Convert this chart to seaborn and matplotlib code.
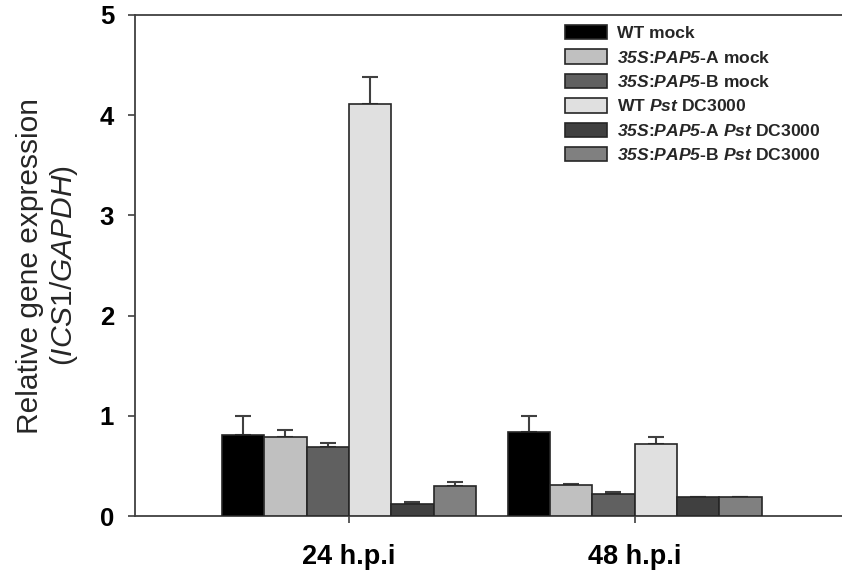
import matplotlib
matplotlib.use("Agg")
import matplotlib.pyplot as plt
import seaborn as sns
import pandas as pd
import numpy as np

# ---- data ----
timepoints = ["24 h.p.i", "48 h.p.i"]
groups = [
    "WT mock",
    r"$\mathbfit{35S}$:$\mathbfit{PAP5}$-A mock",
    r"$\mathbfit{35S}$:$\mathbfit{PAP5}$-B mock",
    r"WT $\mathbfit{Pst}$ DC3000",
    r"$\mathbfit{35S}$:$\mathbfit{PAP5}$-A $\mathbfit{Pst}$ DC3000",
    r"$\mathbfit{35S}$:$\mathbfit{PAP5}$-B $\mathbfit{Pst}$ DC3000",
]
values_24 = [0.805, 0.785, 0.69, 4.11, 0.123, 0.30]
values_48 = [0.835, 0.306, 0.22, 0.715, 0.19, 0.19]
errors_24 = [0.19, 0.073, 0.04, 0.27, 0.017, 0.04]
errors_48 = [0.16, 0.016, 0.02, 0.073, 0.004, 0.02]
colors = ["#000000", "#c0c0c0", "#606060", "#e0e0e0", "#404040", "#808080"]

sns.set_theme(style="white")
plt.rcParams["font.family"] = ["Liberation Sans", "DejaVu Sans"]
plt.rcParams["mathtext.fontset"] = "custom"
plt.rcParams["mathtext.rm"] = "Liberation Sans"
plt.rcParams["mathtext.it"] = "Liberation Sans:italic"
plt.rcParams["mathtext.bf"] = "Liberation Sans:bold"
plt.rcParams["mathtext.bfit"] = "Liberation Sans:italic:bold"

rows = []
for g, v, e in zip(groups, values_24, errors_24):
    rows.append({"time": timepoints[0], "group": g, "value": v, "err": e})
for g, v, e in zip(groups, values_48, errors_48):
    rows.append({"time": timepoints[1], "group": g, "value": v, "err": e})
df = pd.DataFrame(rows)

fig = plt.figure(figsize=(8.42, 5.75), dpi=100)
ax = fig.add_axes([135 / 842, 59 / 575, 1 - 135 / 842, (516 - 15) / 575])

sns.barplot(data=df, x="time", y="value", hue="group", hue_order=groups,
            order=timepoints, palette=colors, width=0.889, errorbar=None,
            edgecolor="#262626", linewidth=1.2, ax=ax, legend=True, zorder=3)

# error bars (upper only), positioned from the bars seaborn drew
bars = [p for p in ax.patches if p.get_height() > 0]
for p in bars:
    cx = p.get_x() + p.get_width() / 2
    h = p.get_height()
    match = df.loc[np.isclose(df["value"], h)]
    if len(match) == 0:
        continue
    e = match["err"].iloc[0]
    ax.errorbar(cx, h, yerr=[[0], [e]], fmt="none", ecolor="#404040",
                elinewidth=1.5, capsize=5.7, capthick=1.5, zorder=2)

ax.set_ylim(0, 5)
ax.set_xlim(-0.749, 1.726)
ax.set_yticks([0, 1, 2, 3, 4, 5])
ax.set_yticklabels(["0", "1", "2", "3", "4", "5"])
ax.set_xlabel("")
ax.set_ylabel("Relative gene expression\n" + r"($\mathit{ICS1/GAPDH}$)",
              fontsize=21.5, labelpad=14, multialignment="center")

for s in ["left", "top", "bottom"]:
    ax.spines[s].set_visible(True)
    ax.spines[s].set_color("#404040")
    ax.spines[s].set_linewidth(1.3)
ax.spines["right"].set_visible(False)

ax.tick_params(axis="y", direction="out", length=5, width=1.2, color="#404040",
               left=True, pad=10, labelsize=18.5)
ax.tick_params(axis="x", direction="out", length=5, width=1.2, color="#404040",
               bottom=True, pad=15, labelsize=19.5)
for lbl in ax.get_yticklabels() + ax.get_xticklabels():
    lbl.set_fontweight("bold")
    lbl.set_color("black")

handles, labels = ax.get_legend_handles_labels()
ax.legend(handles, labels, loc="upper left",
          bbox_to_anchor=(565 / 842, 1 - 25 / 575), bbox_transform=fig.transFigure,
          frameon=False, prop={"weight": "bold", "size": 12.6},
          handlelength=2.4, handleheight=0.88, handletextpad=0.55,
          labelspacing=0.47, borderpad=0, borderaxespad=0)

fig.savefig("out.png", dpi=100)
